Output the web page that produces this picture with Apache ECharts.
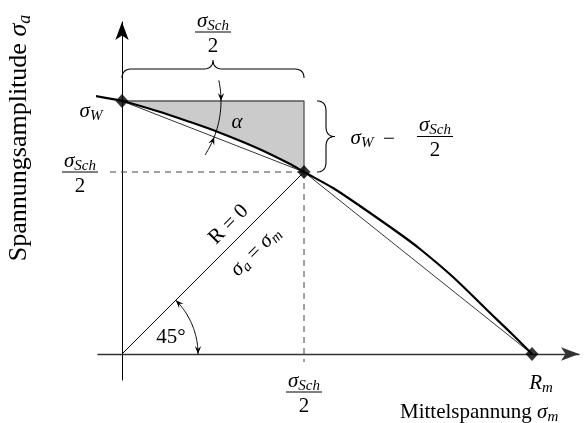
<!DOCTYPE html>
<html>
<head>
<meta charset="utf-8">
<script src="https://cdn.jsdelivr.net/npm/echarts@6/dist/echarts.min.js"></script>
<style>
html,body{margin:0;padding:0;background:#fff;}
#chart{width:585px;height:423px;}
</style>
</head>
<body>
<div id="chart"></div>
<script>
// Haigh diagram: stress amplitude over mean stress
const sigmaW = 253;        // fatigue strength under fully reversed load
const sigmaSchHalf = 182;  // half the pulsating fatigue strength (R = 0)
const Rm = 410;            // ultimate tensile strength

// limit curve: mean stress / stress amplitude
const curveMean = [-33, 0, 35, 68, 96, 135, 168, 182, 211, 238, 278, 298, 331, 365, 391, 410];
const curveAmp  = [259, 253, 243, 232, 222, 206, 190, 182, 166, 148, 120, 105, 77, 44, 19, 0];

const INK = '#000';
const FONT = 'Liberation Serif';
const MAIN = 21, SUB = 15, TITLE = 26;

const measureCtx = document.createElement('canvas').getContext('2d');
function measureWidth(str, size, italic) {
  measureCtx.font = (italic ? 'italic ' : '') + size + 'px "' + FONT + '"';
  return measureCtx.measureText(str).width;
}
function txt(str, x, y, size, italic, rot, align) {
  return {
    type: 'text', x: x, y: y, rotation: rot || 0,
    style: {
      text: str, fontSize: size, fontFamily: FONT,
      fontStyle: italic ? 'italic' : 'normal', fill: INK,
      align: align || 'left', verticalAlign: 'middle'
    }
  };
}
// a run of text pieces (symbol, subscript ...) laid out left to right, centred on (cx, cy)
function term(parts) {
  let width = 0; const offs = [];
  parts.forEach(function (p) { offs.push(width); width += measureWidth(p[0], p[1], p[2]); });
  return {
    width: width,
    place: function (cx, cy, rot) {
      rot = rot || 0;
      const c = Math.cos(rot), s = Math.sin(rot);
      return parts.map(function (p, i) {
        const a = offs[i] - width / 2, d = p[3];
        return txt(p[0], cx + a * c + d * s, cy - a * s + d * c, p[1], p[2], rot);
      });
    }
  };
}
function sym(main, sub, size, subSize) {
  return [[main, size || MAIN, true, 0], [sub, subSize || SUB, true, 5]];
}
function frac(numParts, cx, barY) {
  const n = term(numParts);
  const half = n.width / 2 + 2;
  return n.place(cx, barY - 11).concat([
    { type: 'line', shape: { x1: cx - half, y1: barY, x2: cx + half, y2: barY },
      style: { stroke: INK, lineWidth: 1 } },
    txt('2', cx, barY + 14, MAIN, false, 0, 'center')
  ]);
}
function quadTo(out, a, cp, b) {
  for (let i = 1; i <= 12; i++) {
    const t = i / 12, u = 1 - t;
    out.push([u * u * a[0] + 2 * u * t * cp[0] + t * t * b[0],
              u * u * a[1] + 2 * u * t * cp[1] + t * t * b[1]]);
  }
}
// curly brace from p1 to p2, tip pointing along n
function brace(p1, p2, n, h) {
  const dx = p2[0] - p1[0], dy = p2[1] - p1[1], L = Math.hypot(dx, dy);
  const ux = dx / L, uy = dy / L;
  const P = function (t, s) { return [p1[0] + t * ux + s * n[0], p1[1] + t * uy + s * n[1]]; };
  const r = Math.min(10, L / 6), m = h / 2;
  const pts = [P(0, 0)];
  quadTo(pts, P(0, 0), P(0, m), P(r, m));
  pts.push(P(L / 2 - r, m));
  quadTo(pts, P(L / 2 - r, m), P(L / 2, m), P(L / 2, h));
  quadTo(pts, P(L / 2, h), P(L / 2, m), P(L / 2 + r, m));
  pts.push(P(L - r, m));
  quadTo(pts, P(L - r, m), P(L, m), P(L, 0));
  return { type: 'polyline', shape: { points: pts }, style: { stroke: INK, lineWidth: 1.1, fill: null } };
}
function arc(c, r, a0, a1) {
  const pts = [];
  for (let i = 0; i <= 48; i++) {
    const a = a0 + (a1 - a0) * i / 48;
    pts.push([c[0] + r * Math.cos(a), c[1] + r * Math.sin(a)]);
  }
  return { type: 'polyline', shape: { points: pts }, style: { stroke: INK, lineWidth: 1, fill: null } };
}
function arrowHead(c, r, th, dir) {
  const tip = [c[0] + r * Math.cos(th), c[1] + r * Math.sin(th)];
  const tx = -Math.sin(th) * dir, ty = Math.cos(th) * dir;
  const nx = -ty, ny = tx, L = 8, H = 3.2;
  const back = [tip[0] - tx * L, tip[1] - ty * L];
  const notch = [tip[0] - tx * L * 0.62, tip[1] - ty * L * 0.62];
  return { type: 'polygon',
    shape: { points: [tip, [back[0] + nx * H, back[1] + ny * H], notch, [back[0] - nx * H, back[1] - ny * H]] },
    style: { fill: INK } };
}
const deg = Math.PI / 180;

const chart = echarts.init(document.getElementById('chart'), null, { renderer: 'canvas' });
chart.setOption({
  animation: false,
  grid: { left: 98, top: 22, width: 481, height: 358, containLabel: false },
  xAxis: {
    type: 'value', min: -24, max: 457,
    axisLine: { onZero: true, symbol: ['none', 'arrow'], symbolSize: [10, 18], lineStyle: { color: '#333', width: 1.4 } },
    axisTick: { show: false }, axisLabel: { show: false }, splitLine: { show: false }
  },
  yAxis: {
    type: 'value', min: -26, max: 332,
    axisLine: { onZero: true, symbol: ['none', 'arrow'], symbolSize: [10, 18], lineStyle: { color: INK, width: 1 } },
    axisTick: { show: false }, axisLabel: { show: false }, splitLine: { show: false }
  },
  series: [
    { // shaded region between the horizontal through sigma_W and the limit curve
      type: 'custom', z: 1, data: [[0, 0]],
      renderItem: function (params, api) {
        const pts = [[0, sigmaW], [sigmaSchHalf, sigmaW]];
        for (let i = curveMean.length - 1; i >= 0; i--) {
          if (curveMean[i] >= 0 && curveMean[i] <= sigmaSchHalf) pts.push([curveMean[i], curveAmp[i]]);
        }
        return { type: 'polygon', shape: { points: pts.map(function (p) { return api.coord(p); }) },
                 style: { fill: '#cbcbcb' } };
      }
    },
    { type: 'line', z: 2, silent: true, showSymbol: false, clip: false,
      data: [[0, sigmaW], [sigmaSchHalf, sigmaW], [sigmaSchHalf, sigmaSchHalf]],
      lineStyle: { color: '#555', width: 1.3 } },
    { type: 'line', z: 2, silent: true, showSymbol: false, clip: false,
      data: [[-12, sigmaSchHalf], [sigmaSchHalf, sigmaSchHalf]],
      lineStyle: { color: '#444', width: 1, type: [6, 5] } },
    { type: 'line', z: 2, silent: true, showSymbol: false, clip: false,
      data: [[sigmaSchHalf, sigmaSchHalf], [sigmaSchHalf, -8]],
      lineStyle: { color: '#444', width: 1, type: [6, 5] } },
    { // secant lines
      type: 'line', z: 2, silent: true, showSymbol: false, clip: false,
      data: [[0, sigmaW], [sigmaSchHalf, sigmaSchHalf], [Rm, 0]],
      lineStyle: { color: INK, width: 0.8 } },
    { // R = 0 line
      type: 'line', z: 2, silent: true, showSymbol: false, clip: false,
      data: [[0, 0], [sigmaSchHalf, sigmaSchHalf]],
      lineStyle: { color: INK, width: 1 } },
    { // limit curve
      type: 'line', z: 3, silent: true, showSymbol: false, clip: false,
      smooth: 0.3,
      data: curveMean.map(function (m, i) { return [m, curveAmp[i]]; }),
      lineStyle: { color: INK, width: 2.2 } },
    { type: 'scatter', z: 5, silent: true, symbol: 'diamond', symbolSize: [13, 14],
      itemStyle: { color: INK },
      data: [[0, sigmaW], [sigmaSchHalf, sigmaSchHalf], [Rm, 0]] },
    { // annotations: braces, angle arcs and labels
      type: 'custom', z: 4, silent: true, data: [[0, 0]],
      renderItem: function (params, api) {
        const O = api.coord([0, 0]);
        const W = api.coord([0, sigmaW]);
        const S = api.coord([sigmaSchHalf, sigmaSchHalf]);
        const R = api.coord([Rm, 0]);
        let els = [];

        // brace over the top with sigma_Sch / 2
        els.push(brace([W[0], W[1] - 23], [S[0], W[1] - 23], [0, -1], 18));
        els = els.concat(frac(sym('σ', 'Sch'), (W[0] + S[0]) / 2, W[1] - 69));

        // brace at the right with sigma_W - sigma_Sch / 2
        els.push(brace([S[0] + 13, W[1]], [S[0] + 13, S[1]], [1, 0], 18));
        const midY = (W[1] + S[1]) / 2;
        els = els.concat(term(sym('σ', 'W')).place(S[0] + 58, midY + 2));
        els.push(txt('−', S[0] + 85, midY + 3, MAIN, false, 0, 'center'));
        els = els.concat(frac(sym('σ', 'Sch'), S[0] + 131, midY));

        // left-hand labels
        els = els.concat(term(sym('σ', 'W')).place(W[0] - 31, W[1] + 10));
        els = els.concat(frac(sym('σ', 'Sch'), W[0] - 42, S[1]));

        // bottom labels
        els = els.concat(frac(sym('σ', 'Sch'), S[0], O[1] + 38));
        els = els.concat(term([['R', MAIN, true, 0], ['m', SUB, true, 5]]).place(R[0] + 9, O[1] + 29));
        const xt = term([['Mittelspannung ', MAIN, false, 0], ['σ', MAIN, true, 0], ['m', SUB, true, 5]]);
        els = els.concat(xt.place(R[0] - 132 + xt.width / 2, O[1] + 58));

        // axis title
        const yt = term([['Spannungsamplitude ', TITLE, false, 0], ['σ', TITLE, true, 0], ['a', 18, true, 6]]);
        els = els.concat(yt.place(O[0] - 103, O[1] - 216, Math.PI / 2));

        // angle alpha
        const thC = Math.atan2(S[1] - W[1], S[0] - W[0]);
        els.push(arc(W, 99, -12 * deg, 33 * deg));
        els.push(arrowHead(W, 99, 0, 1));
        els.push(arrowHead(W, 99, thC, -1));
        els.push(txt('α', W[0] + 115, W[1] + 21, MAIN, true, 0, 'center'));

        // 45 degree angle
        const thL = Math.atan2(S[1] - O[1], S[0] - O[0]);
        els.push(arc(O, 76, thL, 0));
        els.push(arrowHead(O, 76, thL, -1));
        els.push(arrowHead(O, 76, 0, 1));
        els.push(txt('45°', O[0] + 49, O[1] - 17, MAIN, false, 0, 'center'));

        // labels along the R = 0 line
        const len = Math.hypot(S[0] - O[0], S[1] - O[1]);
        const ux = (S[0] - O[0]) / len, uy = (S[1] - O[1]) / len;
        const px = -uy, py = ux; // perpendicular, pointing below-right
        const bx = O[0] + ux * 167, by = O[1] + uy * 167;
        const rot = -Math.atan2(uy, ux);
        els = els.concat(term([['R = 0', MAIN, false, 0]]).place(bx - px * 16, by - py * 16, rot));
        els = els.concat(term([['σ', MAIN, true, 0], ['a', SUB, true, 5], [' = ', MAIN, false, 0],
                               ['σ', MAIN, true, 0], ['m', SUB, true, 5]]).place(bx + px * 22, by + py * 22, rot));

        return { type: 'group', children: els };
      }
    }
  ]
});
</script>
</body>
</html>
